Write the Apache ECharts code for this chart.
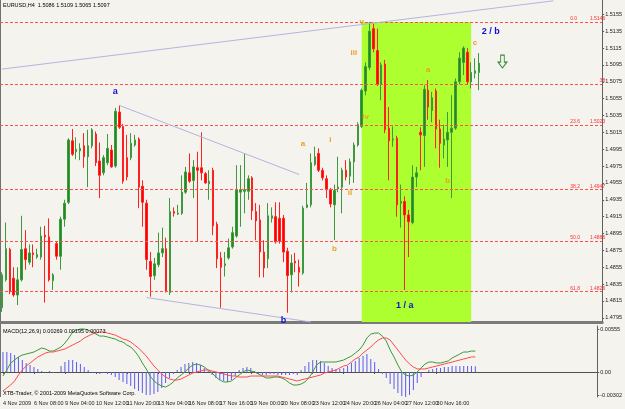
<!DOCTYPE html>
<html><head><meta charset="utf-8">
<script src="https://cdn.jsdelivr.net/npm/echarts@6/dist/echarts.min.js"></script>
<style>html,body{margin:0;padding:0;background:#f4f3ee}#c{width:625px;height:409px}</style>
</head><body><div id="c"></div>
<script>
const symbolName = 'EURUSD,H4';
const opens = [1.4807,1.4840,1.4876,1.4842,1.4822,1.4840,1.4877,1.4861,1.4872,1.4867,
1.4867,1.4893,1.4891,1.4839,1.4883,1.4868,1.4912,1.4932,1.5005,1.4992,
1.4993,1.4999,1.4986,1.4999,1.5013,1.4981,1.4967,1.4979,1.4994,1.4975,
1.5039,1.5022,1.4985,1.4985,1.5000,1.5007,1.4951,1.4931,1.4862,1.4845,
1.4858,1.4872,1.4877,1.4825,1.4921,1.4918,1.4919,1.4944,1.4967,1.4958,
1.4973,1.4973,1.4966,1.4954,1.4970,1.4906,1.4866,1.4857,1.4866,1.4879,
1.4892,1.4944,1.4945,1.4945,1.4961,1.4921,1.4911,1.4873,1.4865,1.4913,
1.4915,1.4913,1.4913,1.4874,1.4846,1.4862,1.4855,1.4848,1.4926,1.4929,
1.4977,1.4990,1.4970,1.4960,1.4947,1.4929,1.4948,1.4950,1.4970,1.4963,
1.4980,1.5000,1.5022,1.5064,1.5092,1.5138,1.5112,1.5072,1.5096,1.5020,
1.5006,1.5008,1.4931,1.4933,1.4917,1.4908,1.4962,1.5015,1.5011,1.5065,
1.5041,1.5064,1.5019,1.5000,1.5006,1.5015,1.5020,1.5075,1.5098,1.5110,
1.5075,1.5085,1.5086];
const highs = [1.4849,1.4908,1.4878,1.4855,1.4855,1.4916,1.4899,1.4882,1.4882,1.4877,
1.4903,1.4904,1.4913,1.4848,1.4885,1.4915,1.4935,1.5008,1.5019,1.5009,
1.5002,1.5014,1.5018,1.5020,1.5016,1.5003,1.4988,1.5013,1.5000,1.5044,
1.5047,1.5025,1.5012,1.5014,1.5012,1.5009,1.4958,1.4935,1.4873,1.4866,
1.4896,1.4902,1.4890,1.4937,1.4926,1.4929,1.4964,1.4974,1.4990,1.4982,
1.4992,1.5015,1.4968,1.4970,1.4973,1.4909,1.4873,1.4873,1.4889,1.4903,
1.4976,1.4976,1.4990,1.4964,1.4963,1.4931,1.4929,1.4887,1.4931,1.4926,
1.4932,1.4932,1.4917,1.4878,1.4870,1.4872,1.4864,1.4928,1.4955,1.4990,
1.4998,1.4996,1.4973,1.4964,1.4949,1.4953,1.4986,1.4973,1.4982,1.4984,
1.5003,1.5027,1.5067,1.5098,1.5146,1.5144,1.5138,1.5098,1.5101,1.5045,
1.5022,1.5011,1.4953,1.4939,1.4923,1.4976,1.4974,1.5021,1.5071,1.5077,
1.5063,1.5067,1.5030,1.5024,1.5039,1.5059,1.5079,1.5110,1.5117,1.5115,
1.5098,1.5103,1.5109];
const lows = [1.4802,1.4838,1.4823,1.4820,1.4810,1.4838,1.4852,1.4858,1.4855,1.4865,
1.4864,1.4813,1.4838,1.4828,1.4864,1.4852,1.4903,1.4930,1.4987,1.4983,
1.4982,1.4973,1.4950,1.4996,1.4975,1.4937,1.4964,1.4976,1.4973,1.4973,
1.5019,1.4954,1.4958,1.4982,1.4998,1.4925,1.4903,1.4852,1.4820,1.4840,
1.4855,1.4867,1.4825,1.4822,1.4915,1.4917,1.4917,1.4942,1.4955,1.4937,
1.4885,1.4958,1.4954,1.4935,1.4893,1.4854,1.4807,1.4844,1.4864,1.4877,
1.4890,1.4903,1.4919,1.4935,1.4911,1.4887,1.4843,1.4843,1.4854,1.4908,
1.4883,1.4883,1.4861,1.4801,1.4825,1.4849,1.4832,1.4846,1.4925,1.4926,
1.4975,1.4968,1.4958,1.4937,1.4926,1.4887,1.4944,1.4919,1.4958,1.4953,
1.4955,1.4998,1.5020,1.5059,1.5089,1.5110,1.5070,1.5053,1.5014,1.4958,
1.4998,1.4915,1.4902,1.4828,1.4867,1.4906,1.4950,1.4970,1.4974,1.5030,
1.5027,1.4996,1.4973,1.4984,1.4974,1.4937,1.5018,1.5072,1.5083,1.5072,
1.5067,1.5079,1.5065];
const closes = [1.4846,1.4877,1.4826,1.4822,1.4840,1.4876,1.4864,1.4872,1.4870,1.4870,
1.4892,1.4891,1.4840,1.4846,1.4868,1.4912,1.4931,1.5006,1.4989,1.4995,
1.4996,1.4986,1.4999,1.5018,1.4979,1.4964,1.4985,1.4996,1.4974,1.5040,
1.5021,1.4957,1.4962,1.5002,1.5006,1.4950,1.4932,1.4864,1.4844,1.4859,
1.4872,1.4877,1.4826,1.4921,1.4919,1.4919,1.4944,1.4968,1.4957,1.4974,
1.4970,1.4967,1.4955,1.4957,1.4904,1.4865,1.4855,1.4859,1.4878,1.4896,
1.4947,1.4947,1.4947,1.4960,1.4922,1.4910,1.4873,1.4854,1.4916,1.4916,
1.4885,1.4886,1.4873,1.4845,1.4860,1.4860,1.4849,1.4925,1.4929,1.4979,
1.4986,1.4970,1.4961,1.4947,1.4930,1.4946,1.4950,1.4970,1.4962,1.4980,
1.5000,1.5024,1.5065,1.5093,1.5135,1.5114,1.5072,1.5095,1.5018,1.5005,
1.5007,1.4929,1.4933,1.4917,1.4909,1.4962,1.4967,1.5012,1.5066,1.5045,
1.5056,1.5019,1.5002,1.5007,1.5015,1.5020,1.5075,1.5103,1.5115,1.5075,
1.5086,1.5088,1.5097];
const macdMain = [-0.00052,0.00026,0.00116,0.00155,0.00194,0.00219,0.00232,0.00245,0.00258,0.00284,
0.0031,0.00297,0.00271,0.00271,0.00297,0.00323,0.00374,0.00439,0.00516,0.00542,
0.00555,0.00555,0.00542,0.00516,0.0049,0.00464,0.00464,0.00452,0.00439,0.00426,
0.004,0.00387,0.00348,0.00323,0.00271,0.00206,0.00116,0.00039,-0.00052,-0.00116,
-0.00155,-0.00181,-0.00194,-0.00168,-0.00129,-0.00077,-0.00039,0,0.00052,0.0009,
0.00103,0.0009,0.00065,0.00026,-0.00013,-0.00065,-0.00103,-0.00129,-0.00129,-0.00116,
-0.00077,-0.00039,0,0.00026,0.00013,0,-0.00026,-0.00052,-0.00077,-0.00077,
-0.00065,-0.00065,-0.00077,-0.00103,-0.00142,-0.00168,-0.00168,-0.00155,-0.00129,-0.00077,
0,0.0009,0.00129,0.00129,0.00129,0.00129,0.00129,0.00142,0.00155,0.00181,
0.00206,0.00245,0.00284,0.00348,0.00439,0.0049,0.00503,0.00503,0.00464,0.004,
0.00284,0.00194,0.0009,0,-0.00039,-0.00052,-0.00039,0,0.00052,0.00103,
0.00129,0.00129,0.00116,0.00116,0.00129,0.00142,0.00181,0.00206,0.00232,0.00258,
0.00258,0.00271,0.00269];
const macdSignal = [-0.00245,-0.00206,-0.00168,-0.00116,-0.00039,0.00026,0.00077,0.00116,0.00155,0.00194,
0.00219,0.00245,0.00258,0.00258,0.00271,0.00284,0.00297,0.00323,0.00348,0.00374,
0.004,0.00439,0.00464,0.0049,0.00503,0.00516,0.00516,0.00503,0.0049,0.00477,
0.00452,0.00426,0.00413,0.00387,0.00348,0.0031,0.00258,0.00206,0.00142,0.00077,
0.00026,-0.00026,-0.00065,-0.0009,-0.00103,-0.00103,-0.0009,-0.00065,-0.00039,-0.00013,
0,0.00013,0.00026,0.00026,0.00013,0,-0.00013,-0.00026,-0.00039,-0.00052,
-0.00052,-0.00065,-0.00065,-0.00065,-0.00052,-0.00052,-0.00052,-0.00052,-0.00052,-0.00052,
-0.00052,-0.00052,-0.00065,-0.00077,-0.0009,-0.00103,-0.00116,-0.00103,-0.0009,-0.00077,
-0.00065,-0.00052,-0.00039,-0.00013,0,0.00013,0.00026,0.00052,0.00077,0.0009,
0.00129,0.00168,0.00194,0.00245,0.00284,0.00323,0.00374,0.00413,0.00439,0.00439,
0.00413,0.00348,0.00284,0.00219,0.00155,0.00103,0.00065,0.00039,0.00039,0.00039,
0.00052,0.00065,0.00077,0.0009,0.00103,0.00116,0.00129,0.00142,0.00155,0.00168,
0.00181,0.00194,0.00195];
const macdHist = [0.00258,0.00258,0.00245,0.00219,0.00194,0.00155,0.00116,0.0009,0.00065,0.00039,
0.00013,0,0.00013,-0.00013,0,0.00077,0.00129,0.00155,0.00155,0.00129,
0.00103,0.00065,0.00026,-0.00013,-0.00013,-0.00026,-0.00013,-0.00026,-0.00039,-0.00065,
-0.00103,-0.00129,-0.00155,-0.00181,-0.00219,-0.00245,-0.00271,-0.00297,-0.00297,-0.00284,
-0.00258,-0.00206,-0.00142,-0.00077,-0.00026,0.00026,0.00065,0.00103,0.00116,0.00129,
0.00116,0.0009,0.00052,0.00013,-0.00039,-0.00077,-0.00103,-0.00116,-0.00129,-0.00103,
-0.00052,0.00026,0.00052,0.00065,0.00052,0.00013,-0.00026,-0.00039,-0.00039,-0.00026,
-0.00026,-0.00039,-0.00039,-0.00039,-0.00039,-0.00026,-0.00039,0.00026,0.00077,0.00129,
0.00155,0.00155,0.00142,0.00116,0.00077,0.00052,0.00039,0.00039,0.00052,0.00077,
0.00116,0.00142,0.00181,0.00206,0.00232,0.00168,0.00129,0.00039,-0.00026,-0.00077,
-0.00155,-0.00219,-0.00271,-0.0031,-0.00323,-0.00297,-0.00232,-0.00142,-0.00065,-0.00013,
0.00026,0.00039,0.00052,0.00052,0.00065,0.00065,0.00077,0.00077,0.00077,0.00077,
0.00077,0.00077,0.00073];
const xTickLabels = ['4 Nov 2009','6 Nov 08:00','9 Nov 04:00','10 Nov 12:00','11 Nov 20:00','13 Nov 04:00','16 Nov 08:00','17 Nov 16:00','19 Nov 00:00','20 Nov 08:00','23 Nov 12:00','24 Nov 20:00','26 Nov 04:00','27 Nov 12:00','30 Nov 16:00','2 Dec 00:00'];
const xTickStep = 8;
const futureBars = 31;
const priceTicks = [1.4795,1.4815,1.4835,1.4855,1.4875,1.4895,1.4915,1.4935,1.4955,1.4975,1.4995,1.5015,1.5035,1.5055,1.5075,1.5095,1.5115,1.5135,1.5155];
const macdTicks = [0.00555,0,-0.00302];
const fibNames = ['0.0','38','23.6','38.2','50.0','61.8'];
const fibPrices = [1.5146,1.5072,1.5023,1.4947,1.4886,1.4826];
const fibShowPrice = [true,false,true,true,true,true];
const zoneBars = [92,120];
const zoneTop = 1.5146;
// trend lines: [barA, priceA, barB, priceB]
const lavenderLines = [[0,1.5090,141,1.5171],[30,1.5047,76,1.4965],[37,1.4819,79,1.4790]];
const fibBaseLine = [24,1.4788,92,1.5146];
const blueLine = [103,1.4828,132,1.5175];
const blueLabels = [['a',29,1.5063],['b',72,1.4792],['1 / a',103,1.4810],['2 / b',125,1.5135]];
const orangeLabels = [['a',77,1.5002],['i',84,1.5006],['b',85,1.4877],['ii',89,1.4943],['iii',90,1.5109],['iv',93,1.5033],['v',92,1.5146],['a',109,1.5089],['b',114,1.4957],['c',121,1.5121]];
const arrowMark = [128,1.5099];

const last = closes.length - 1;
const N = closes.length + futureBars;
const cats = Array.from({length: N}, (_, i) => String(i));
const labelAt = i => (i % xTickStep === 0 && i / xTickStep < xTickLabels.length) ? xTickLabels[i / xTickStep] : '';
const candleData = opens.map((o, i) => [o, closes[i], lows[i], highs[i]]);
const FF = 'Liberation Sans, Arial, sans-serif';
const BG = '#f4f3ee';

const chart = echarts.init(document.getElementById('c'), null, {renderer: 'canvas'});
const txtLabel = (t, b, p, color, size) => ({
  coord: [b, p], value: t, symbol: 'circle', symbolSize: 1,
  itemStyle: {color: 'rgba(0,0,0,0)'},
  label: {show: true, position: 'inside', formatter: t, color: color, fontSize: size, fontWeight: 'bold', fontFamily: FF}
});
const seg = (a, style) => [{coord: [a[0], a[1]], lineStyle: style}, {coord: [a[2], a[3]]}];
const fibLine = (p, i) => ({
  yAxis: p,
  lineStyle: {color: '#ff5050', type: [3, 2], width: 1},
  label: {show: true, position: 'insideEndTop', distance: [-3, 1],
    formatter: fibShowPrice[i] ? `{n|${fibNames[i]}}{p|${p.toFixed(4)}}` : fibNames[i],
    color: '#ff3030', fontSize: 5, fontFamily: FF,
    rich: {n: {width: 20, align: 'left', fontSize: 5, color: '#ff3030', fontFamily: FF},
           p: {width: 15, align: 'right', fontSize: 5, color: '#ff3030', fontFamily: FF}}}
});

const option = {
  animation: false,
  backgroundColor: BG,
  title: [
    {text: `${symbolName}  ${opens[last].toFixed(4)} ${highs[last].toFixed(4)} ${lows[last].toFixed(4)} ${closes[last].toFixed(4)}`, left: 3, top: 2, padding: 0,
     textStyle: {fontSize: 5.5, fontWeight: 'normal', color: '#000', fontFamily: FF}},
    {text: `MACD(12,26,9) ${macdMain[last].toFixed(5)} ${macdSignal[last].toFixed(5)} ${macdHist[last].toFixed(5)}`, left: 3, top: 328, padding: 0,
     textStyle: {fontSize: 5.5, fontWeight: 'normal', color: '#000', fontFamily: FF}},
    {text: 'XTB-Trader, \u00a9 2001-2009 MetaQuotes Software Corp.', left: 3, top: 390, padding: 0,
     textStyle: {fontSize: 5.5, fontWeight: 'normal', color: '#000', fontFamily: FF}}
  ],
  graphic: [{type: 'line', shape: {x1: 0.5, y1: 0, x2: 0.5, y2: 397}, style: {stroke: '#707070', lineWidth: 1}, silent: true}],
  grid: [{left: 0, top: 0, width: 606, height: 322}, {left: 0, top: 326, width: 606, height: 71}],
  xAxis: [
    {type: 'category', gridIndex: 0, data: cats, boundaryGap: true,
     axisLine: {show: true, lineStyle: {color: '#7a7a7a', width: 3}}, axisTick: {show: false}, axisLabel: {show: false}, splitLine: {show: false}},
    {type: 'category', gridIndex: 1, data: cats, boundaryGap: true,
     axisLine: {show: true, lineStyle: {color: '#505050', width: 1}},
     axisTick: {show: true, interval: (i) => labelAt(i) !== '', alignWithLabel: true, length: 2, lineStyle: {color: '#505050'}},
     axisLabel: {show: true, interval: (i) => labelAt(i) !== '', formatter: (v, i) => labelAt(i), align: 'left', fontSize: 5.5, color: '#202020', margin: 3, fontFamily: FF},
     splitLine: {show: false}}
  ],
  yAxis: [
    {type: 'value', gridIndex: 0, position: 'right', min: 1.4790, max: 1.5172,
     axisLine: {show: true, lineStyle: {color: '#606060'}},
     axisTick: {show: true, length: 2, customValues: priceTicks, lineStyle: {color: '#606060'}},
     axisLabel: {show: true, customValues: priceTicks, formatter: v => v.toFixed(4), fontSize: 5.5, color: '#202020', margin: 3, fontFamily: FF},
     splitLine: {show: false}},
    {type: 'value', gridIndex: 1, position: 'right', min: -0.00323, max: 0.00594,
     axisLine: {show: true, lineStyle: {color: '#606060'}},
     axisTick: {show: true, length: 2, customValues: macdTicks, lineStyle: {color: '#606060'}},
     axisLabel: {show: true, customValues: macdTicks, formatter: v => v === 0 ? '0.00' : v.toFixed(5), fontSize: 5.5, color: '#202020', margin: 3, fontFamily: FF},
     splitLine: {show: false}}
  ],
  series: [
    {type: 'line', name: 'zone', xAxisIndex: 0, yAxisIndex: 0, data: [], z: 1, silent: true,
     markArea: {silent: true, itemStyle: {color: '#adff2f', opacity: 1},
       data: [[{xAxis: zoneBars[0], yAxis: zoneTop}, {xAxis: zoneBars[1], yAxis: 1.4790}]]}},
    {type: 'candlestick', name: symbolName, xAxisIndex: 0, yAxisIndex: 0, data: candleData, z: 3,
     barWidth: 2,
     itemStyle: {color: '#1f8c1f', color0: '#ff0000', borderColor: '#3c9a3c', borderColor0: '#ff2020', borderWidth: 1},
     markLine: {silent: true, symbol: ['none', 'none'], animation: false, precision: 5, label: {show: false},
       data: fibPrices.map(fibLine)
         .concat(lavenderLines.map(l => seg(l, {color: '#b4b4e0', width: 1, type: 'solid'})))
         .concat([
         seg(fibBaseLine, {color: '#ff6060', type: [2, 2], width: 1}),
         seg(blueLine, {color: '#2020c8', type: 'solid', width: 1.5}),
         {yAxis: closes[last], lineStyle: {opacity: 0},
          label: {show: true, position: 'end', distance: 2, formatter: closes[last].toFixed(4), backgroundColor: '#000', color: '#fff', padding: [1, 2], fontSize: 5.5, fontFamily: FF}}
       ])},
     markPoint: {silent: true, animation: false,
       data: blueLabels.map(a => txtLabel(a[0], a[1], a[2], '#1010d0', 9))
         .concat(orangeLabels.map(a => txtLabel(a[0], a[1], a[2], '#f0a020', 8)))
         .concat([{coord: arrowMark, symbol: 'path://M3,0 L7,0 L7,7 L10,7 L5,13 L0,7 L3,7 Z', symbolSize: [9, 13],
           itemStyle: {color: BG, borderColor: '#2e8b2e', borderWidth: 1}, label: {show: false}}])
     }},
    {type: 'bar', name: 'hist', xAxisIndex: 1, yAxisIndex: 1, data: macdHist, barWidth: 1, itemStyle: {color: '#5a5af0'}, z: 2},
    {type: 'line', name: 'macd', xAxisIndex: 1, yAxisIndex: 1, data: macdMain, symbol: 'none', lineStyle: {color: '#3a9a3a', width: 1}, z: 3},
    {type: 'line', name: 'signal', xAxisIndex: 1, yAxisIndex: 1, data: macdSignal, symbol: 'none', lineStyle: {color: '#ff4a4a', width: 1}, z: 3}
  ]
};
chart.setOption(option);
</script></body></html>
